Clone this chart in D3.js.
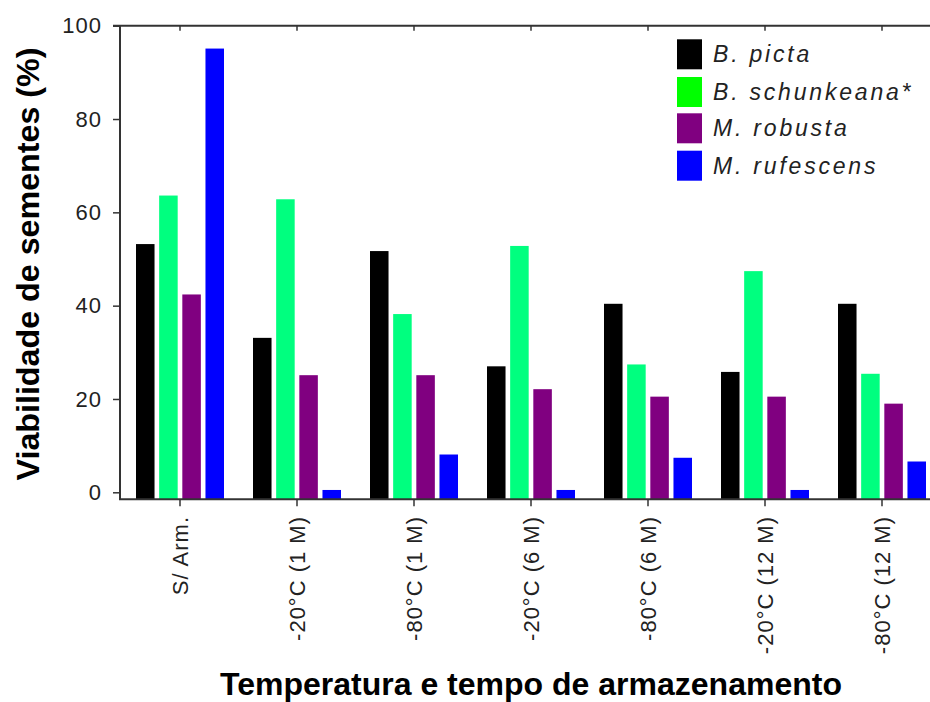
<!DOCTYPE html>
<html><head><meta charset="utf-8">
<script src="https://cdn.jsdelivr.net/npm/d3@7"></script>
<style>body{margin:0;background:#fff}svg{display:block}text{font-family:Arial,"Liberation Sans",sans-serif}</style>
</head><body><svg id="c" width="930" height="702"></svg>
<script>
const categories = ["S/ Arm.", "-20°C (1 M)", "-80°C (1 M)", "-20°C (6 M)", "-80°C (6 M)", "-20°C (12 M)", "-80°C (12 M)"];
const seriesNames = ["B. picta", "B. schunkeana*", "M. robusta", "M. rufescens"];
const bPicta = [53.2, 33.1, 51.7, 27.0, 40.4, 25.8, 40.4];
const bSchunkeana = [63.6, 62.8, 38.2, 52.8, 27.4, 47.4, 25.4];
const mRobusta = [42.4, 25.1, 25.1, 22.1, 20.5, 20.5, 19.0];
const mRufescens = [95.1, 0.5, 8.1, 0.5, 7.4, 0.5, 6.6];
const yTicks = [0, 20, 40, 60, 80, 100];
const barColors = ["#000000", "#00ff7f", "#800080", "#0000ff"];
const legendColors = ["#000000", "#00ff00", "#800080", "#0000ff"];

const values = [bPicta, bSchunkeana, mRobusta, mRufescens];
const svg = d3.select("#c");
const axisColor = "#333";

const x0 = d3.scaleBand().domain(categories).range([121.5, 940.5]).padding(0);
const bw = x0.bandwidth();
const x1 = d3.scaleBand().domain(seriesNames).range([bw/2 - 44, bw/2 + 44]).paddingInner(0.2).paddingOuter(0);
const y = d3.scaleLinear().domain([-1.5, 100]).range([499.3, 25.7]);

// bars
const g = svg.append("g");
categories.forEach((c, ci) => {
  seriesNames.forEach((s, si) => {
    const v = values[si][ci];
    g.append("rect")
      .attr("x", x0(c) + x1(s))
      .attr("width", x1.bandwidth())
      .attr("y", y(v))
      .attr("height", y(-1.5) - y(v))
      .attr("fill", barColors[si]);
  });
});

// frame lines
svg.append("line").attr("x1", 120).attr("x2", 120).attr("y1", y(100)).attr("y2", y(-1.5)).attr("stroke", axisColor).attr("stroke-width", 2);
svg.append("line").attr("x1", 113).attr("x2", 930).attr("y1", y(100)).attr("y2", y(100)).attr("stroke", axisColor).attr("stroke-width", 2);
svg.append("line").attr("x1", 119).attr("x2", 930).attr("y1", y(-1.5)).attr("y2", y(-1.5)).attr("stroke", axisColor).attr("stroke-width", 2);

// y axis
const ya = svg.append("g").attr("transform", "translate(120,0)")
  .call(d3.axisLeft(y).tickValues(yTicks).tickSize(7).tickPadding(11));
ya.select(".domain").remove();
ya.selectAll(".tick line").attr("stroke", axisColor).attr("stroke-width", 1.5);
ya.selectAll(".tick text").attr("font-size", 22).attr("fill", "#222").attr("letter-spacing", 1)
  .attr("font-family", "Arial, 'Liberation Sans', sans-serif");

// x axis bottom
const xa = svg.append("g").attr("transform", `translate(0,${y(-1.5)})`)
  .call(d3.axisBottom(x0).tickSize(7).tickFormat(""));
xa.select(".domain").remove();
xa.selectAll(".tick line").attr("stroke", axisColor).attr("stroke-width", 1.5);

// top ticks
const xt = svg.append("g").attr("transform", `translate(0,${y(100)})`)
  .call(d3.axisBottom(x0).tickSize(5).tickFormat(""));
xt.select(".domain").remove();
xt.selectAll(".tick line").attr("stroke", axisColor).attr("stroke-width", 1.5);

// x tick labels rotated
categories.forEach(c => {
  svg.append("text")
    .attr("transform", `translate(${x0(c) + bw/2},516) rotate(-90)`)
    .attr("text-anchor", "end")
    .attr("dy", "0.35em")
    .attr("font-size", 22)
    .attr("letter-spacing", 1)
    .attr("fill", "#222")
    .text(c);
});

// axis titles
svg.append("text")
  .attr("transform", "translate(39,264) rotate(-90)")
  .attr("text-anchor", "middle")
  .attr("font-size", 31).attr("font-weight", "bold")
  .attr("textLength", 433).attr("lengthAdjust", "spacingAndGlyphs")
  .attr("fill", "#000")
  .text("Viabilidade de sementes (%)");

svg.append("text")
  .attr("x", 531).attr("y", 695)
  .attr("text-anchor", "middle")
  .attr("font-size", 31).attr("font-weight", "bold")
  .attr("textLength", 622).attr("lengthAdjust", "spacingAndGlyphs")
  .attr("fill", "#000")
  .text("Temperatura e tempo de armazenamento");

// legend
const legendTops = [39.3, 77, 113.3, 150.7];
seriesNames.forEach((s, i) => {
  svg.append("rect").attr("x", 677).attr("y", legendTops[i]).attr("width", 25).attr("height", 30)
    .attr("fill", legendColors[i]);
  svg.append("text").attr("x", 713).attr("y", legendTops[i] + 23)
    .attr("font-size", 23).attr("font-style", "italic").attr("letter-spacing", 2.8)
    .attr("fill", "#222")
    .text(s);
});
</script></body></html>
